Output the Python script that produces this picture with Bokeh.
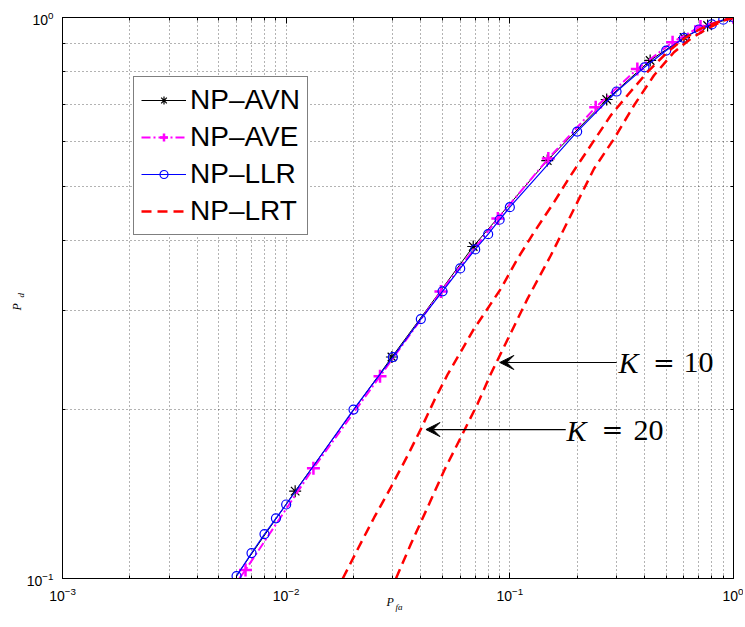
import math
from bokeh.plotting import figure
from bokeh.models import (FixedTicker, LogAxis, LogTickFormatter, CustomJSTickFormatter,
                          Legend, LegendItem, Label, Arrow, VeeHead, Title)
from bokeh.embed import file_html
from bokeh.resources import INLINE

# ---------------- data ----------------
llr_x = [0.006, 0.007, 0.008, 0.009, 0.01, 0.02, 0.03, 0.04, 0.05, 0.06, 0.07, 0.08,
         0.09, 0.1, 0.2, 0.3, 0.4, 0.5, 0.6, 0.7, 0.8, 0.9, 1.0]
llr_y = [0.101, 0.111, 0.120, 0.128, 0.1355, 0.200, 0.248, 0.290, 0.325, 0.357, 0.386,
         0.411, 0.436, 0.459, 0.626, 0.738, 0.815, 0.873, 0.920, 0.952, 0.972, 0.991, 1.0]

# first point of each of these is only a line start (no marker)
avn_x = [0.00598, 0.01097, 0.0297, 0.0686, 0.147, 0.271, 0.424, 0.601, 0.766, 1.0]
avn_y = [0.101, 0.1431, 0.2482, 0.3907, 0.5559, 0.7142, 0.8383, 0.9211, 0.9677, 1.0]

ave_x = [0.00617, 0.00658, 0.01324, 0.02628, 0.0492, 0.0884, 0.1486, 0.242, 0.3716,
         0.5341, 0.712, 1.0]
ave_y = [0.1, 0.1036, 0.1573, 0.2294, 0.3248, 0.4383, 0.5605, 0.6919, 0.8096, 0.9036,
         0.9638, 1.0]

lrt20_x = [0.01791, 0.02110, 0.02478, 0.02942, 0.03494, 0.04006, 0.04593, 0.05290, 0.06080,
           0.06840, 0.09117, 0.1082, 0.1284, 0.1577, 0.1872, 0.2299, 0.2825, 0.3352,
           0.4119, 0.5058, 0.5999, 0.7122, 0.8457, 1.0]
lrt20_y = [0.1, 0.1137, 0.1286, 0.1455, 0.1657, 0.1848, 0.2077, 0.2317, 0.2549, 0.2767,
           0.3285, 0.3714, 0.4143, 0.4687, 0.5231, 0.5912, 0.6689, 0.7261, 0.7990, 0.8672,
           0.9163, 0.9547, 0.9809, 1.0]

lrt10_x = [0.03097, 0.03614, 0.04291, 0.05088, 0.06043, 0.07175, 0.08227,
           0.1199, 0.1524, 0.1937, 0.2378, 0.2922, 0.3588, 0.4406, 0.5417, 0.6427, 0.7631,
           0.9052, 1.0]
lrt10_y = [0.1, 0.1153, 0.1340, 0.1558, 0.1786, 0.2048, 0.2317,
           0.3151, 0.3765, 0.4560, 0.5376, 0.6077, 0.6968, 0.7882, 0.8672, 0.9163, 0.9547,
           0.9878, 1.0]

series_names = ["NP\u2013AVN", "NP\u2013AVE", "NP\u2013LLR", "NP\u2013LRT"]
x_major = [1e-3, 1e-2, 1e-1, 1.0]
y_major = [0.1, 1.0]

# arrow annotations (data coordinates)
k10_arrow = dict(x_start=0.3003, y_start=0.2427, x_end=0.0902, y_end=0.2427)
k20_arrow = dict(x_start=0.1778, y_start=0.1843, x_end=0.04217, y_end=0.1843)

# ---------------- figure ----------------
p = figure(width=743, height=625, x_axis_type="log", y_axis_type="log",
           x_range=(1e-3, 1.0), y_range=(0.1, 1.0),
           output_backend="svg", toolbar_location=None,
           min_border_left=62, min_border_right=10, min_border_top=17, min_border_bottom=47)
p.background_fill_color = "white"
p.border_fill_color = "white"
p.outline_line_color = "black"
p.outline_line_width = 1

x_minor = [m * 10 ** d for d in (-3, -2, -1) for m in range(2, 10)]
y_minor = [m * 0.1 for m in range(2, 10)]
xt = FixedTicker(ticks=x_major, minor_ticks=x_minor)
yt = FixedTicker(ticks=y_major, minor_ticks=y_minor)

def style_axis(ax, ticker, labels=True):
    ax.ticker = ticker
    ax.axis_line_color = "black"
    ax.axis_line_width = 1
    ax.major_tick_in = 6
    ax.major_tick_out = 0
    ax.minor_tick_in = 3
    ax.minor_tick_out = 0
    ax.major_tick_line_color = "black"
    ax.minor_tick_line_color = "black"
    ax.axis_label = None
    if labels:
        ax.formatter = LogTickFormatter()
        ax.major_label_text_font = "Liberation Sans"
        ax.major_label_text_font_size = "14px"
        ax.major_label_text_color = "black"
    else:
        ax.formatter = CustomJSTickFormatter(code="return ''")
        ax.major_label_standoff = 0

style_axis(p.xaxis[0], xt)
style_axis(p.yaxis[0], yt)
p.xaxis[0].major_label_standoff = 8
p.yaxis[0].major_label_standoff = 9

ax_r = LogAxis()
style_axis(ax_r, yt, labels=False)
p.add_layout(ax_r, "right")
ax_t = LogAxis()
style_axis(ax_t, xt, labels=False)
p.add_layout(ax_t, "above")

for g in (p.xgrid[0], p.ygrid[0]):
    g.grid_line_color = "black"
    g.grid_line_alpha = 0.6
    g.grid_line_dash = "1 3"
    g.grid_line_width = 1
    g.minor_grid_line_color = "black"
    g.minor_grid_line_alpha = 0.6
    g.minor_grid_line_dash = "1 3"
    g.minor_grid_line_width = 1

# ---------------- series ----------------
avn_line = p.line(avn_x, avn_y, line_color="black", line_width=1)
avn_mk = p.scatter(avn_x[1:], avn_y[1:], marker="asterisk", size=12,
                   line_color="black", line_width=1.2)

ave_line = p.line(ave_x, ave_y, line_color="#FF00FF", line_width=2, line_dash="9 3 2 3")
ave_mk = p.scatter(ave_x[1:], ave_y[1:], marker="cross", size=13,
                   line_color="#FF00FF", line_width=2.5)

llr_line = p.line(llr_x, llr_y, line_color="#0000FF", line_width=1.2)
llr_mk = p.scatter(llr_x, llr_y, marker="circle", size=9, fill_color=None,
                   line_color="#0000FF", line_width=1.2)

lrt20 = p.line(lrt20_x, lrt20_y, line_color="#FF0000", line_width=2.5, line_dash="10 6")
lrt10 = p.line(lrt10_x, lrt10_y, line_color="#FF0000", line_width=2.5, line_dash="10 6")

legend = Legend(items=[
    LegendItem(label=series_names[0], renderers=[avn_line, avn_mk]),
    LegendItem(label=series_names[1], renderers=[ave_line, ave_mk]),
    LegendItem(label=series_names[2], renderers=[llr_line, llr_mk]),
    LegendItem(label=series_names[3], renderers=[lrt20]),
], location=(71, 343))
legend.label_text_font = "Liberation Sans"
legend.label_text_font_size = "28px"
legend.label_text_color = "black"
legend.glyph_width = 45
legend.glyph_height = 20
legend.label_standoff = 4
legend.padding = 7
legend.spacing = 5
legend.border_line_color = "black"
legend.border_line_width = 1.5
legend.background_fill_color = "white"
legend.background_fill_alpha = 1
p.add_layout(legend)

# ---------------- annotations ----------------
for a in (k10_arrow, k20_arrow):
    p.add_layout(Arrow(end=VeeHead(size=14, fill_color="black", line_color="black"),
                       line_color="black", line_width=1.2, **a))

def lab(text, x, y, size, style="normal", align="left", font="Liberation Serif"):
    p.add_layout(Label(x=x, y=y, x_units="screen", y_units="screen", text=text,
                       text_font=font, text_font_size=size, text_font_style=style,
                       text_align=align, text_baseline="middle", text_color="black"))

# K = 10   (frame-relative screen units)
lab("K", 556, 216, "30px", "italic")
lab("=", 601.5, 216, "26px", align="center", font="DejaVu Serif")
lab("10", 621, 216, "30px")
# K = 20
lab("K", 504, 148.5, "30px", "italic")
lab("=", 550, 148.5, "26px", align="center", font="DejaVu Serif")
lab("20", 571, 148.5, "30px")

# axis labels P_fa and P_d, placed as side-panel titles (not clipped)
def side_title(text, side, size, offset, standoff, valign):
    p.add_layout(Title(text=text, align="left", offset=offset, standoff=standoff,
                       vertical_align=valign, text_font="Liberation Serif",
                       text_font_size=size, text_font_style="italic",
                       text_color="black"), side)

side_title("fa", "below", "9px", 333, -4, "top")
side_title("P", "below", "12px", 324, -34, "top")
side_title("d", "left", "9px", 281, -4, "bottom")
side_title("P", "left", "12px", 268, -16, "bottom")

open("out.html", "w").write(file_html(p, INLINE))
